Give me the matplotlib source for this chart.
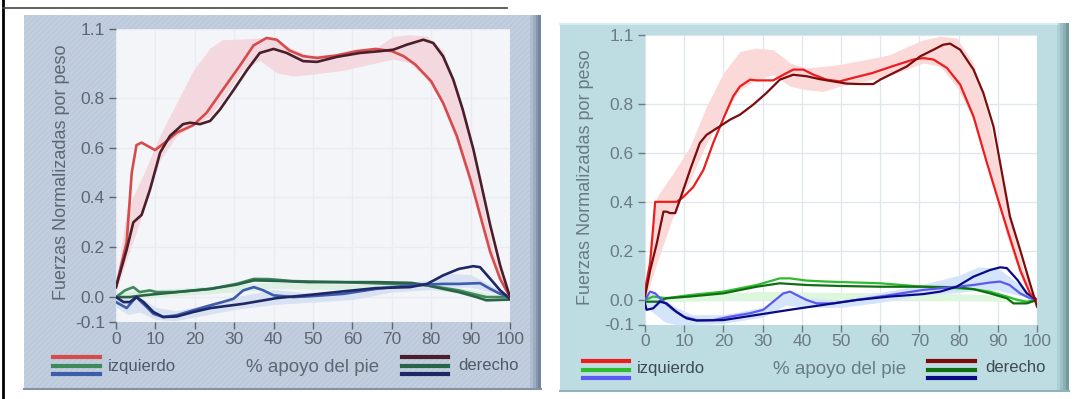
import matplotlib.pyplot as plt
import numpy as np
from matplotlib.patches import Rectangle
from matplotlib.lines import Line2D

plt.rcParams['font.family'] = ['Liberation Sans', 'DejaVu Sans']
plt.rcParams['hatch.linewidth'] = 0.6

# ---------------- datos panel izquierdo (escaneado) ----------------
L_red_x = [0, 2.7, 4, 5.2, 6.5, 9.9, 12.4, 15.4, 19.6, 23, 27, 31.5, 34.9, 38.2, 40.8, 44, 47.5, 51, 56, 61, 66, 70, 73, 76, 80, 83, 86.5, 90, 92.4, 95, 97.5, 100]
L_red_y = [0.04, 0.22, 0.5, 0.61, 0.62, 0.59, 0.62, 0.66, 0.69, 0.74, 0.83, 0.93, 1.01, 1.04, 1.033, 0.99, 0.967, 0.96, 0.97, 0.987, 0.996, 0.987, 0.967, 0.933, 0.866, 0.78, 0.647, 0.47, 0.33, 0.18, 0.073, 0.0]
L_dred_x = [0, 2.7, 4.4, 6.5, 8.6, 11.2, 13.7, 17, 18.8, 21.3, 23.9, 26.4, 29.8, 33.2, 36.5, 40, 43.3, 47.5, 51, 56, 62, 67, 70.4, 73.8, 78, 80.5, 83, 85.6, 88, 90.7, 92.4, 95, 97.5, 100]
L_dred_y = [0.04, 0.19, 0.3, 0.33, 0.43, 0.58, 0.647, 0.694, 0.7, 0.694, 0.707, 0.753, 0.83, 0.91, 0.98, 0.996, 0.98, 0.947, 0.944, 0.964, 0.98, 0.987, 0.993, 1.013, 1.033, 1.02, 0.967, 0.873, 0.753, 0.593, 0.473, 0.287, 0.127, 0.0]
L_rband_x = [0, 2.7, 6.9, 11.2, 15.4, 19.6, 23.9, 27, 32, 36.5, 40.8, 45, 49, 57.7, 66, 70.4, 74.6, 79, 83, 87, 91.5, 95.8, 100]
L_rband_hi = [0.05, 0.35, 0.49, 0.65, 0.78, 0.91, 1.0, 1.033, 1.036, 1.04, 1.035, 0.995, 0.97, 0.975, 1.0, 1.047, 1.053, 1.047, 0.99, 0.82, 0.5, 0.18, 0.0]
L_rband_lo = [0.02, 0.15, 0.34, 0.55, 0.647, 0.687, 0.727, 0.79, 0.91, 0.95, 0.9, 0.887, 0.893, 0.91, 0.94, 0.955, 0.94, 0.873, 0.767, 0.593, 0.367, 0.14, 0.0]

L_grn_x = [0, 2.3, 4.4, 6, 8.6, 10.3, 15, 24, 30.6, 35, 39, 45, 57, 70, 75, 79, 87, 91.5, 94, 100]
L_grn_y = [0.0, 0.027, 0.04, 0.02, 0.027, 0.02, 0.02, 0.033, 0.053, 0.073, 0.072, 0.064, 0.06, 0.053, 0.053, 0.047, 0.027, 0.009, 0.0, 0.0]
L_dgrn_x = [0, 3.5, 7, 15.4, 24, 30.6, 35, 41, 49, 57, 66, 75, 79, 83, 87, 91.5, 94, 100]
L_dgrn_y = [0.0, 0.0, 0.007, 0.02, 0.033, 0.05, 0.067, 0.065, 0.06, 0.06, 0.06, 0.057, 0.047, 0.033, 0.02, 0.0, -0.013, -0.01]
L_gband_x = [0, 10, 30, 40, 60, 80, 90, 100]
L_gband_hi = [0.02, 0.03, 0.05, 0.06, 0.05, 0.05, 0.03, 0.0]
L_gband_lo = [-0.01, 0.0, 0.02, 0.035, 0.03, 0.03, 0.01, -0.01]

L_blu_x = [0, 2.7, 4.4, 5.2, 6, 7.8, 9.5, 12, 15.4, 19.6, 24, 27, 29.8, 32.3, 35, 37.4, 40, 45, 49, 57.7, 66, 74.6, 83, 87, 92.4, 95, 97.5, 100]
L_blu_y = [-0.02, -0.044, -0.013, 0.0, -0.013, -0.04, -0.067, -0.08, -0.073, -0.053, -0.033, -0.02, -0.007, 0.027, 0.04, 0.027, 0.007, 0.0, 0.003, 0.013, 0.033, 0.047, 0.053, 0.053, 0.056, 0.033, 0.013, 0.0]
L_nav_x = [0, 1.9, 3.5, 5.2, 7, 9.5, 12, 15.4, 19.6, 24, 32.3, 40.8, 49.2, 57.7, 66, 74.6, 79, 83, 87, 90.7, 92.4, 95, 97.5, 100]
L_nav_y = [0.0, -0.02, -0.02, 0.0, -0.02, -0.06, -0.08, -0.078, -0.06, -0.044, -0.027, -0.004, 0.009, 0.023, 0.036, 0.04, 0.053, 0.087, 0.113, 0.124, 0.12, 0.073, 0.027, -0.007]
L_bband_x = [0, 3, 6, 10, 15, 20, 30, 40, 50, 60, 70, 80, 85, 90, 95, 100]
L_bband_hi = [0.0, -0.01, 0.0, -0.04, -0.055, -0.04, 0.0, 0.03, 0.015, 0.03, 0.05, 0.07, 0.095, 0.09, 0.05, 0.0]
L_bband_lo = [-0.04, -0.07, -0.06, -0.09, -0.095, -0.08, -0.05, -0.03, -0.02, -0.01, 0.02, 0.03, 0.04, 0.04, 0.02, 0.0]

# ---------------- datos panel derecho ----------------
R_red_x = [0, 1.3, 2.1, 2.6, 8.1, 9.8, 12.3, 14.9, 17.4, 20, 22.5, 24.2, 26.8, 28.5, 32.7, 35.3, 37.8, 40.4, 43, 46.3, 49.7, 53, 58, 63, 68.5, 71, 73.6, 77, 80.4, 83.8, 87, 90.6, 93, 95.7, 98.2, 100]
R_red_y = [0.04, 0.15, 0.3, 0.40, 0.40, 0.42, 0.46, 0.53, 0.64, 0.74, 0.83, 0.87, 0.898, 0.895, 0.895, 0.918, 0.939, 0.939, 0.918, 0.898, 0.891, 0.905, 0.925, 0.952, 0.98, 0.986, 0.98, 0.946, 0.878, 0.748, 0.571, 0.381, 0.258, 0.122, 0.027, 0.0]
R_dred_x = [0, 1.3, 3, 4.7, 5.5, 6.4, 7.7, 8.9, 11.5, 14, 15.7, 19, 21.7, 24.2, 27.6, 31, 34.4, 37.8, 41.2, 44.6, 48, 51.4, 54.8, 58.2, 60, 63.4, 66.8, 70.2, 73.6, 76, 77.8, 80.4, 83.8, 86.3, 88.9, 90.6, 93.1, 95.7, 98.2, 100]
R_dred_y = [0.014, 0.12, 0.23, 0.36, 0.36, 0.354, 0.354, 0.408, 0.53, 0.64, 0.673, 0.707, 0.735, 0.755, 0.796, 0.844, 0.898, 0.918, 0.912, 0.9, 0.891, 0.882, 0.88, 0.88, 0.898, 0.925, 0.952, 0.993, 1.02, 1.04, 1.045, 1.02, 0.939, 0.844, 0.707, 0.558, 0.34, 0.204, 0.068, -0.027]
R_rband_x = [0, 3, 7.2, 11.5, 15.7, 20, 24.2, 28.5, 32.7, 37, 41, 45.5, 49.7, 54, 58, 62.5, 66.5, 71, 75.3, 79.5, 83.8, 88, 92.3, 96.5, 100]
R_rband_hi = [0.05, 0.42, 0.517, 0.626, 0.79, 0.925, 1.013, 1.027, 1.02, 0.966, 0.946, 0.952, 0.96, 0.973, 0.985, 1.0, 1.03, 1.06, 1.075, 1.068, 0.966, 0.72, 0.395, 0.122, 0.0]
R_rband_lo = [0.0, 0.15, 0.34, 0.49, 0.64, 0.76, 0.857, 0.898, 0.918, 0.871, 0.857, 0.85, 0.871, 0.885, 0.898, 0.915, 0.939, 0.966, 0.952, 0.871, 0.735, 0.53, 0.258, 0.068, 0.0]

R_grn_x = [0, 2.1, 5.5, 11.5, 20, 28.5, 34.4, 37, 41.2, 46.3, 60, 71, 79.5, 83.8, 88, 92.3, 95, 97.4, 100]
R_grn_y = [0.0, 0.014, 0.007, 0.02, 0.034, 0.061, 0.088, 0.088, 0.079, 0.075, 0.068, 0.054, 0.048, 0.044, 0.034, 0.014, 0.0, -0.007, 0.0]
R_dgrn_x = [0, 3.4, 5.5, 11.5, 20, 28.5, 34.4, 41.2, 49.7, 60, 71, 79.5, 83.8, 88, 92.3, 94, 97.4, 100]
R_dgrn_y = [-0.007, -0.007, 0.007, 0.014, 0.027, 0.054, 0.068, 0.061, 0.057, 0.054, 0.054, 0.052, 0.044, 0.027, 0.007, -0.014, -0.014, 0.0]
R_gband_x = [0, 10, 30, 50, 70, 90, 100]
R_gband_hi = [0.01, 0.02, 0.035, 0.03, 0.03, 0.02, 0.0]
R_gband_lo = [-0.01, -0.005, 0.0, 0.0, 0.0, -0.005, -0.01]

R_blu_x = [0, 1.3, 2.6, 4.7, 7.2, 9.8, 13.2, 17.4, 21.7, 26.8, 30.2, 32.7, 35.3, 37, 38.7, 41.2, 43.8, 48, 54, 62.5, 71, 79.5, 83.8, 88, 90.6, 93, 95.7, 98.2, 100]
R_blu_y = [0.0, 0.034, 0.027, -0.007, -0.04, -0.068, -0.082, -0.082, -0.068, -0.054, -0.04, -0.007, 0.027, 0.034, 0.02, 0.0, -0.014, -0.014, 0.0, 0.02, 0.041, 0.054, 0.061, 0.071, 0.075, 0.061, 0.027, 0.007, 0.0]
R_nav_x = [0, 0.4, 2.1, 3.8, 5.5, 8, 10.6, 13.2, 20, 28.5, 37, 45.5, 54, 62.5, 71, 75.3, 79.5, 83.8, 88, 90.6, 92.3, 95, 97.4, 100]
R_nav_y = [-0.014, -0.04, -0.034, -0.007, -0.014, -0.048, -0.075, -0.084, -0.082, -0.061, -0.04, -0.02, 0.0, 0.014, 0.024, 0.034, 0.054, 0.095, 0.122, 0.133, 0.13, 0.082, 0.027, 0.0]
R_bband_x = [0, 2, 5, 8, 12, 20, 30, 36, 40, 50, 60, 70, 80, 85, 90, 95, 100]
R_bband_hi = [0.01, 0.03, 0.0, -0.03, -0.06, -0.06, -0.03, 0.03, 0.01, 0.0, 0.03, 0.06, 0.1, 0.135, 0.13, 0.07, 0.0]
R_bband_lo = [-0.03, -0.05, -0.09, -0.1, -0.1, -0.095, -0.07, -0.02, -0.03, -0.03, -0.01, 0.02, 0.03, 0.04, 0.04, 0.02, 0.0]

x_ticks = [0, 10, 20, 30, 40, 50, 60, 70, 80, 90, 100]
y_ticks = [-0.1, 0.0, 0.2, 0.4, 0.6, 0.8]
y_labels = ['-0.1', '0.0', '0.2', '0.4', '0.6', '0.8', '1.1']

W, H = 1087, 399
fig = plt.figure(figsize=(W / 100, H / 100), dpi=100)
fig.patch.set_facecolor('white')

# capa de fondo en pixeles (marcos, leyendas, textos)
bg = fig.add_axes([0, 0, 1, 1], zorder=-1)
bg.set_xlim(0, W)
bg.set_ylim(H, 0)
bg.axis('off')

bg.plot([3, 3], [0, H], color='black', lw=2)
bg.plot([3, 507], [8, 8], color='#444444', lw=1.2)

# marco izquierdo (textura rayada del escaneo)
bg.add_patch(Rectangle((24, 15), 517, 375, facecolor='#bccadb', edgecolor='#c8d4e2',
                       hatch='//////', lw=0))
for i, c in enumerate(['#aebdd0', '#9cacc1', '#8797ad', '#74849b']):
    bg.add_patch(Rectangle((530 + 2.75 * i, 15), 2.75, 375, facecolor=c, lw=0))
bg.plot([24, 541], [389, 389], color='#8592a2', lw=1.5)

# marco derecho
bg.add_patch(Rectangle((560, 23), 509, 369, facecolor='#bddde2', lw=0))
for i, c in enumerate(['#accfd4', '#9cc0c5', '#8aafb4', '#75989e']):
    bg.add_patch(Rectangle((1057 + 3 * i, 23), 3, 369, facecolor=c, lw=0))
bg.plot([560, 1069], [391, 391], color='#92b2b7', lw=1.5)
bg.plot([560, 1057], [24, 24], color='#d6eef0', lw=1.5)


def draw_panel(rect, top, bg_col, grid_col, txt_col, lw, cols, bands, series):
    ax = fig.add_axes(rect)
    ax.set_facecolor(bg_col)
    rb, gb, bb = bands
    ax.fill_between(rb[0], rb[1], rb[2], color=cols['rband'], lw=0, zorder=1)
    ax.fill_between(gb[0], gb[1], gb[2], color=cols['gband'], lw=0, zorder=1)
    ax.fill_between(bb[0], bb[1], bb[2], color=cols['bband'], lw=0, zorder=1)
    for (sx, sy), key in series:
        ax.plot(sx, sy, color=cols[key], lw=lw, zorder=3)
    ax.set_xlim(0, 100)
    ax.set_ylim(-0.1, top)
    ax.set_xticks(x_ticks)
    ax.set_yticks(y_ticks + [top])
    ax.set_yticklabels(y_labels)
    ax.grid(True, color=grid_col, lw=0.9)
    ax.set_axisbelow(True)
    for s in ax.spines.values():
        s.set_visible(False)
    ax.tick_params(colors=txt_col, labelsize=12.5, length=5, width=1, pad=3)
    ax.tick_params(axis='x', pad=2)
    return ax


left_cols = {'red': '#d64b4b', 'dred': '#4a1e2a', 'grn': '#3f8a5c', 'dgrn': '#2a6448',
             'blu': '#3d5cab', 'nav': '#1e2866',
             'rband': '#f3d9df', 'gband': '#dcefe2', 'bband': '#d8e2f2'}
right_cols = {'red': '#ee1c1c', 'dred': '#7c0c0c', 'grn': '#2fbb2f', 'dgrn': '#0f6e12',
              'blu': '#5a5af0', 'nav': '#0a0a84',
              'rband': '#fbd9d9', 'gband': '#dcf7dc', 'bband': '#d4e4fa'}

draw_panel([116 / W, (H - 322) / H, 394 / W, 293 / H], 1.076, '#f3f5f9', '#e8ecf2', '#5d6772', 1.9,
           left_cols,
           [(L_rband_x, L_rband_lo, L_rband_hi), (L_gband_x, L_gband_lo, L_gband_hi),
            (L_bband_x, L_bband_lo, L_bband_hi)],
           [((L_grn_x, L_grn_y), 'grn'), ((L_dgrn_x, L_dgrn_y), 'dgrn'),
            ((L_blu_x, L_blu_y), 'blu'), ((L_nav_x, L_nav_y), 'nav'),
            ((L_red_x, L_red_y), 'red'), ((L_dred_x, L_dred_y), 'dred')])

draw_panel([645 / W, (H - 324.5) / H, 392 / W, 289.5 / H], 1.08, 'white', '#dfe7ec', '#6b7b82', 1.6,
           right_cols,
           [(R_rband_x, R_rband_lo, R_rband_hi), (R_gband_x, R_gband_lo, R_gband_hi),
            (R_bband_x, R_bband_lo, R_bband_hi)],
           [((R_grn_x, R_grn_y), 'grn'), ((R_dgrn_x, R_dgrn_y), 'dgrn'),
            ((R_blu_x, R_blu_y), 'blu'), ((R_nav_x, R_nav_y), 'nav'),
            ((R_red_x, R_red_y), 'red'), ((R_dred_x, R_dred_y), 'dred')])

# etiquetas y leyendas
def legend_block(x0, x1, ys, colors):
    for yy, c in zip(ys, colors):
        bg.add_line(Line2D([x0, x1], [yy, yy], color=c, lw=3))


# izquierdo
bg.text(61, 172, 'Fuerzas Normalizadas por peso', rotation=90, ha='center', va='center',
        fontsize=13, color='#5d6772')
legend_block(53, 100, [357, 365.5, 374], [left_cols['red'], left_cols['grn'], left_cols['blu']])
bg.text(108, 366, 'izquierdo', ha='left', va='center', fontsize=12, color='#4f5a66')
bg.text(313, 368, '% apoyo del pie', ha='center', va='center', fontsize=13.5, color='#5d6772')
legend_block(402, 448, [357, 365.5, 374], [left_cols['dred'], left_cols['dgrn'], left_cols['nav']])
bg.text(458, 366, 'derecho', ha='left', va='center', fontsize=12, color='#4f5a66')

# derecho
bg.text(585, 177, 'Fuerzas Normalizadas por peso', rotation=90, ha='center', va='center',
        fontsize=13, color='#6b7b82')
legend_block(583, 629, [361, 369.5, 378], [right_cols['red'], right_cols['grn'], right_cols['blu']])
bg.text(637, 368, 'izquierdo', ha='left', va='center', fontsize=12, color='#3e4a50')
bg.text(840, 370, '% apoyo del pie', ha='center', va='center', fontsize=13.5, color='#6b7b82')
legend_block(928, 975, [361, 369.5, 378], [right_cols['dred'], right_cols['dgrn'], right_cols['nav']])
bg.text(985, 368, 'derecho', ha='left', va='center', fontsize=12, color='#3e4a50')

fig.savefig('out.png', dpi=100)
